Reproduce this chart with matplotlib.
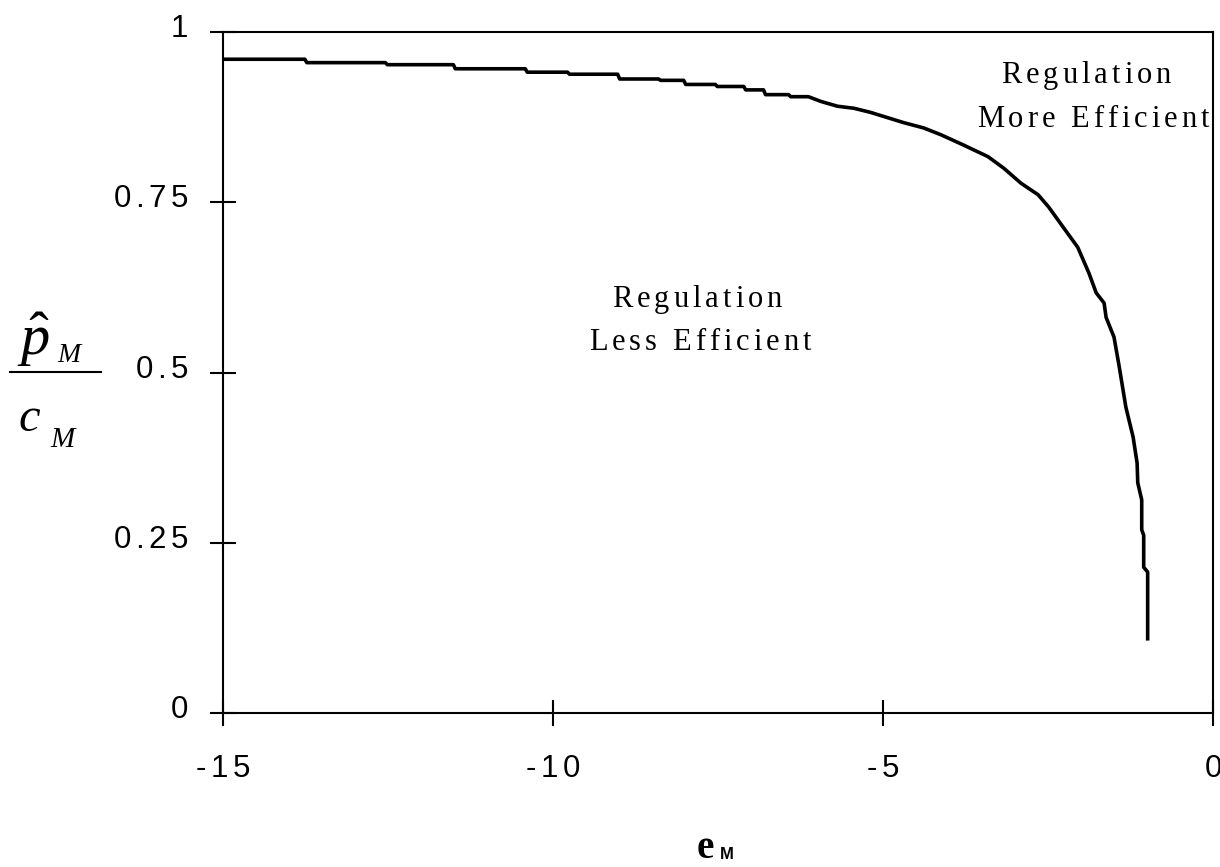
import matplotlib
matplotlib.use("Agg")
import matplotlib.pyplot as plt
from matplotlib.transforms import IdentityTransform
from matplotlib.lines import Line2D
from matplotlib import font_manager

# curve: elasticity e_M vs p_hat_M / c_M
e_m = [-15.0, -13.76, -13.73, -12.54, -12.51, -11.51, -11.48, -10.42, -10.39,
       -9.78, -9.75, -9.02, -8.99, -8.40, -8.37, -8.02, -7.99, -7.54, -7.51,
       -7.11, -7.08, -6.81, -6.78, -6.43, -6.40, -6.13, -5.94, -5.69, -5.44,
       -5.19, -4.99, -4.69, -4.38, -4.12, -3.78, -3.41, -3.17, -2.91, -2.65,
       -2.49, -2.20, -2.05, -1.88, -1.77, -1.65, -1.62, -1.50, -1.42, -1.32,
       -1.21, -1.15, -1.14, -1.08, -1.08, -1.05, -1.05, -0.99, -0.99]
p_over_c = [0.960, 0.960, 0.955, 0.955, 0.952, 0.952, 0.946, 0.946, 0.941,
            0.941, 0.938, 0.938, 0.931, 0.931, 0.929, 0.929, 0.923, 0.923, 0.920,
            0.920, 0.915, 0.915, 0.908, 0.908, 0.905, 0.905, 0.898, 0.891, 0.888,
            0.882, 0.876, 0.867, 0.859, 0.849, 0.834, 0.817, 0.800, 0.778, 0.761,
            0.743, 0.704, 0.684, 0.646, 0.617, 0.602, 0.581, 0.552, 0.508, 0.449,
            0.405, 0.367, 0.338, 0.313, 0.269, 0.261, 0.214, 0.207, 0.109]

x_ticks = [-15, -10, -5, 0]
x_labels = ["-15", "-10", "-5", "0"]
y_ticks = [0, 0.25, 0.5, 0.75, 1]
y_labels = ["0", "0.25", "0.5", "0.75", "1"]

W, H = 1220, 867

plt.rcParams['mathtext.fontset'] = 'custom'
plt.rcParams['mathtext.rm'] = 'Liberation Serif'
plt.rcParams['mathtext.it'] = 'Liberation Serif:italic'

fig = plt.figure(figsize=(W / 100, H / 100), dpi=100)
ax = fig.add_axes([223 / W, 1 - 713 / H, (1213 - 223) / W, (713 - 32) / H])
ax.plot(e_m, p_over_c, color='black', lw=2.6)
ax.set_xlim(-15, 0)
ax.set_ylim(0, 1)
ax.set_xticks(x_ticks)
ax.set_yticks(y_ticks)
ax.tick_params(direction='inout', length=19, width=1.5, colors='black',
               labelleft=False, labelbottom=False)
for sp in ax.spines.values():
    sp.set_linewidth(1.5)


def spaced(x, y, s, family, size, gap, ha='center', weight='normal', style='normal'):
    # letter-spaced text, x/y in pixels from top-left, y is the baseline
    fp = font_manager.FontProperties(family=family, size=size, weight=weight, style=style)
    font = font_manager.get_font(font_manager.findfont(fp))
    font.set_size(size, 100)
    advs = [font.load_char(ord(ch)).linearHoriAdvance / 65536 for ch in s]
    total = sum(advs) + gap * (len(s) - 1)
    if ha == 'center':
        x0 = x - total / 2
    elif ha == 'right':
        x0 = x - total
    else:
        x0 = x
    for ch, a in zip(s, advs):
        fig.text(x0, H - y, ch, fontproperties=fp, ha='left', va='baseline',
                 transform=IdentityTransform())
        x0 += a + gap


def px_text(x, y, s, **kw):
    fig.text(x, H - y, s, va='baseline', transform=IdentityTransform(), **kw)


# tick labels
for v, lab in zip(x_ticks, x_labels):
    px = ax.transData.transform((v, 0))[0]
    spaced(px, 777, lab, 'Liberation Sans', 22.5, 4.5)
for v, lab in zip(y_ticks, y_labels):
    py = H - ax.transData.transform((0, v))[1]
    spaced(188, py + 5, lab, 'Liberation Sans', 22.5, 4.5, ha='right')

# region notes
spaced(697, 307, "Regulation", 'Liberation Serif', 22, 4)
spaced(700, 350, "Less Efficient", 'Liberation Serif', 22, 4)
spaced(1086, 83, "Regulation", 'Liberation Serif', 22, 4)
spaced(1093, 127, "More Efficient", 'Liberation Serif', 22, 4)

# y label as a fraction
px_text(17, 355, r'$\hat{p}$', fontsize=42, ha='left')
px_text(57, 362, 'M', fontsize=20, family='Liberation Serif', style='italic', ha='left')
fig.add_artist(Line2D([10 / W, 101 / W], [1 - 372 / H, 1 - 372 / H],
                      transform=fig.transFigure, color='black', lw=1.5))
px_text(18, 431, 'c', fontsize=35, family='Liberation Serif', style='italic', ha='left')
px_text(50, 447, 'M', fontsize=21, family='Liberation Serif', style='italic', ha='left')

# x label
px_text(697, 858, 'e', fontsize=28, family='Liberation Serif', weight='bold', ha='left')
px_text(720, 859, 'M', fontsize=12, family='Liberation Sans', weight='bold', ha='left')

fig.savefig('out.png', dpi=100)
